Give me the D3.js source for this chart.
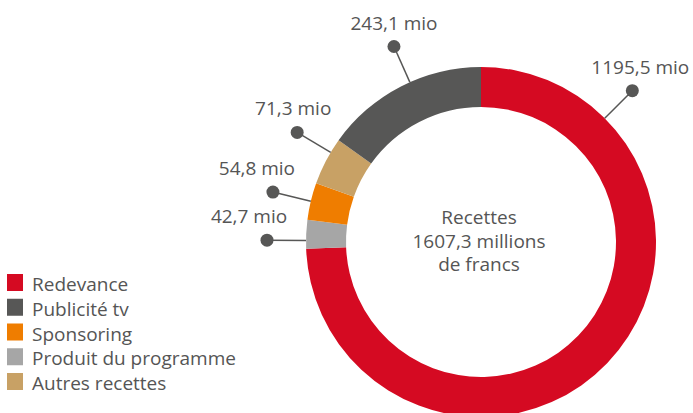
<!DOCTYPE html>
<html>
<head>
<meta charset="utf-8">
<script src="https://cdn.jsdelivr.net/npm/d3@7"></script>
<style>
  body { margin: 0; background: #fff; }
  svg text { font-family: "Open Sans", sans-serif; fill: #555; }
</style>
</head>
<body>
<div id="chart"></div>
<script>
// data (millions de francs), in drawing order clockwise from 12 o'clock
var categories = ["Redevance", "Produit du programme", "Sponsoring", "Autres recettes", "Publicité tv"];
var values = [1195.5, 42.7, 54.8, 71.3, 243.1];
var valueLabels = ["1195,5 mio", "42,7 mio", "54,8 mio", "71,3 mio", "243,1 mio"];
var colors = ["#d50a22", "#a6a6a6", "#ef7d00", "#c8a165", "#575756"];
var legendOrder = ["Redevance", "Publicité tv", "Sponsoring", "Produit du programme", "Autres recettes"];
var centerLines = ["Recettes", "1607,3 millions", "de francs"];

var width = 693, height = 413;
var cx = 481, cy = 242;
var outerR = 175, innerR = 135, dotR = 214;

var svg = d3.select("#chart")
  .append("svg")
    .attr("width", width)
    .attr("height", height);

var g = svg.append("g")
  .attr("transform", "translate(" + cx + "," + cy + ")");

var data = categories.map(function(c, i) {
  return {name: c, value: values[i], label: valueLabels[i], color: colors[i]};
});

var pie = d3.pie()
  .sort(null)
  .value(function(d) { return d.value; });

var arc = d3.arc()
  .innerRadius(innerR)
  .outerRadius(outerR);

var arcs = pie(data);

g.selectAll(".slice")
  .data(arcs)
  .enter().append("path")
  .attr("class", "slice")
  .attr("d", arc)
  .attr("fill", function(d) { return d.data.color; });

// label placement (degrees clockwise from top, and text nudge)
var labelAngle = [45, 270.5, 283.5, 300.8, 336];
var labelDx = [8, -18, -16, -4, 0];

function polar(r, deg) {
  var a = deg * Math.PI / 180;
  return [r * Math.sin(a), -r * Math.cos(a)];
}

var callouts = g.selectAll(".callout")
  .data(arcs)
  .enter().append("g")
  .attr("class", "callout");

callouts.append("line")
  .attr("x1", function(d, i) { return polar(outerR, labelAngle[i])[0]; })
  .attr("y1", function(d, i) { return polar(outerR, labelAngle[i])[1]; })
  .attr("x2", function(d, i) { return polar(dotR, labelAngle[i])[0]; })
  .attr("y2", function(d, i) { return polar(dotR, labelAngle[i])[1]; })
  .attr("stroke", "#575756")
  .attr("stroke-width", 1.5);

callouts.append("circle")
  .attr("cx", function(d, i) { return polar(dotR, labelAngle[i])[0]; })
  .attr("cy", function(d, i) { return polar(dotR, labelAngle[i])[1]; })
  .attr("r", 6.5)
  .attr("fill", "#575756");

callouts.append("text")
  .attr("x", function(d, i) { return polar(dotR, labelAngle[i])[0] + labelDx[i]; })
  .attr("y", function(d, i) { return polar(dotR, labelAngle[i])[1] - 17; })
  .attr("text-anchor", "middle")
  .style("font-size", "19px")
  .text(function(d) { return d.data.label; });

// centre text
g.selectAll(".center")
  .data(centerLines)
  .enter().append("text")
  .attr("class", "center")
  .attr("x", -2)
  .attr("y", function(d, i) { return -18 + i * 23.5; })
  .attr("text-anchor", "middle")
  .style("font-size", "19px")
  .text(function(d) { return d; });

// legend
var legend = svg.selectAll(".legend")
  .data(legendOrder)
  .enter().append("g")
  .attr("class", "legend")
  .attr("transform", function(d, i) { return "translate(7," + (274 + i * 24.75) + ")"; });

legend.append("rect")
  .attr("width", 16)
  .attr("height", 17)
  .attr("fill", function(d) { return colors[categories.indexOf(d)]; });

legend.append("text")
  .attr("x", 25)
  .attr("y", 17)
  .style("font-size", "19px")
  .text(function(d) { return d; });
</script>
</body>
</html>
